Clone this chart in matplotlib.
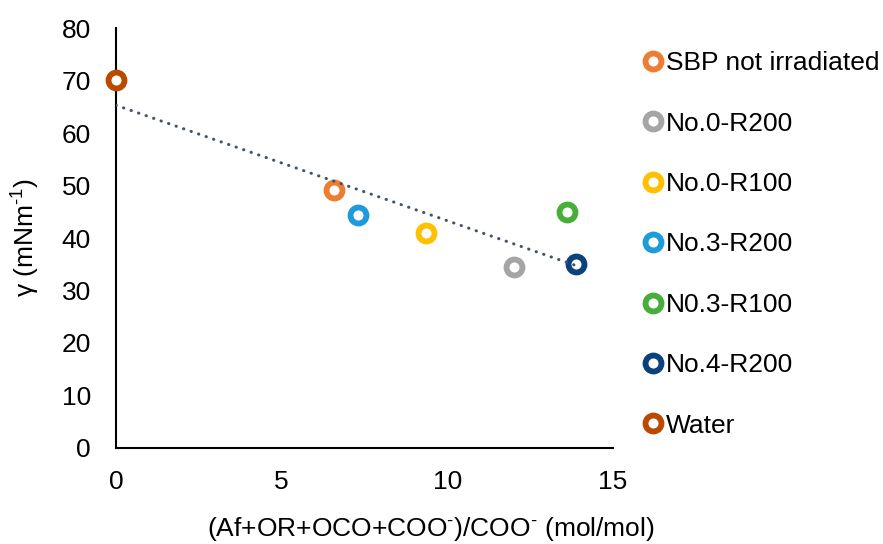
import numpy as np
import matplotlib.pyplot as plt

plt.rcParams['font.family'] = ['Liberation Sans', 'DejaVu Sans']
plt.rcParams['mathtext.fontset'] = 'custom'
plt.rcParams['mathtext.rm'] = 'Liberation Sans'
plt.rcParams['mathtext.it'] = 'Liberation Sans:italic'

# sample data
labels = ['SBP not irradiated', 'No.0-R200', 'No.0-R100', 'No.3-R200',
          'N0.3-R100', 'No.4-R200', 'Water']
x_vals = [6.57, 12.01, 9.37, 7.32, 13.62, 13.89, 0.0]
y_vals = [49.1, 34.4, 41.0, 44.4, 45.0, 35.0, 70.1]
colors = ['#ED7D31', '#A5A5A5', '#FFC000', '#1F9BDB',
          '#47AE3A', '#0B427E', '#BA4A00']

fig = plt.figure(figsize=(8.83, 5.44), dpi=100)
ax = fig.add_axes([0.1314, 0.1765, 0.5625, 0.772])

for xv, yv, c, lab in zip(x_vals, y_vals, colors, labels):
    ax.plot([xv], [yv], linestyle='none', marker='o', markersize=11.5,
            markeredgewidth=4.2, markeredgecolor=c, markerfacecolor='white',
            label=lab, clip_on=False, zorder=3)

# linear trendline through all points
slope, intercept = np.polyfit(x_vals, y_vals, 1)
tx = np.array([min(x_vals), max(x_vals)])
ax.plot(tx, slope * tx + intercept, color='#44546A', linewidth=2.2,
        linestyle=(0, (0.1, 2.5)), dash_capstyle='round', zorder=4)

ax.set_xlim(0, 15)
ax.set_ylim(0, 80)
ax.set_xticks([0, 5, 10, 15])
ax.set_yticks(np.arange(0, 81, 10))
ax.tick_params(length=0, labelsize=19)
ax.tick_params(axis='y', pad=18)
ax.tick_params(axis='x', pad=16)
for s in ['top', 'right']:
    ax.spines[s].set_visible(False)
for s in ['left', 'bottom']:
    ax.spines[s].set_linewidth(1.5)
    ax.spines[s].set_color('black')

ax.set_xlabel(r'(Af+OR+OCO+COO$^{\text{-}}$)/COO$^{\text{-}}$ (mol/mol)',
              fontsize=19, va='center')
ax.xaxis.set_label_coords(0.634, -0.192)
ax.set_ylabel(r'γ (mNm$^{\text{-1}}$)', fontsize=19, labelpad=14)

fig.legend(loc='upper left', bbox_to_anchor=(0.7277, 0.906), frameon=False,
           fontsize=19, handlelength=0.8, handletextpad=0.1,
           labelspacing=1.38, borderpad=0, borderaxespad=0)

fig.savefig('out.png', dpi=100)
